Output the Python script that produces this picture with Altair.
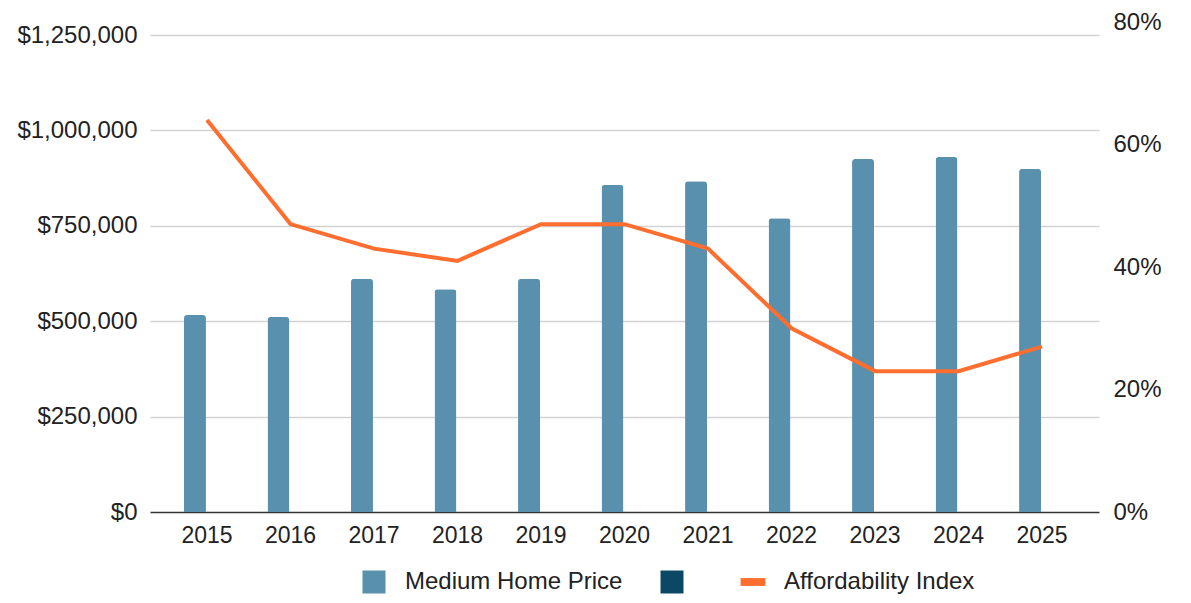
import altair as alt
import pandas as pd

years = ["2015", "2016", "2017", "2018", "2019", "2020", "2021", "2022", "2023", "2024", "2025"]
home_price = [516000, 511000, 611000, 584000, 611000, 857000, 867000, 770000, 925000, 930000, 899000]
affordability = [0.64, 0.47, 0.43, 0.41, 0.47, 0.47, 0.43, 0.30, 0.23, 0.23, 0.27]
series_names = ["Medium Home Price", "Series 2", "Affordability Index"]
series_colors = ["#5890ae", "#0b4866", "#ff6d2f"]
series_shapes = ["square", "square", "M-1.08,-0.34H1.08V0.34H-1.08Z"]
left_ticks = [0, 250000, 500000, 750000, 1000000, 1250000]
right_ticks = [0, 0.2, 0.4, 0.6, 0.8]

FONT = "Liberation Sans"

bars_df = pd.DataFrame({"year": years, "price": home_price, "series": series_names[0]})
line_df = pd.DataFrame({"year": years, "afford": affordability})
legend_df = pd.DataFrame({"series": series_names})

x_enc = alt.X(
    "year:O",
    title=None,
    scale=alt.Scale(paddingInner=0.45, paddingOuter=0.407),
    axis=alt.Axis(labelAngle=0, labelFontSize=23, labelFont=FONT, labelColor="#222",
                  ticks=False, tickSize=0, domain=False, labelPadding=12),
)

bars = alt.Chart(bars_df).mark_bar(
    color=series_colors[0], cornerRadiusTopLeft=3, cornerRadiusTopRight=3
).encode(
    x=x_enc,
    xOffset=alt.XOffset("series:N", scale=alt.Scale(domain=series_names[:2], paddingInner=0.083, paddingOuter=0)),
    y=alt.Y(
        "price:Q",
        title=None,
        scale=alt.Scale(domain=[0, 1284100], nice=False),
        axis=alt.Axis(
            values=left_ticks, format="$,.0f", orient="left",
            labelFontSize=24, labelFont=FONT, labelColor="#222",
            ticks=False, domain=False, labelPadding=13,
            grid=True, gridWidth=1.5,
            gridColor={"condition": {"test": "datum.value === 0", "value": "#333333"}, "value": "#d3d3d3"},
        ),
    ),
)

line = alt.Chart(line_df).mark_line(color=series_colors[2], strokeWidth=4).encode(
    x=alt.X("year:O"),
    y=alt.Y(
        "afford:Q",
        title=None,
        scale=alt.Scale(domain=[0, 0.8], nice=False),
        axis=alt.Axis(
            values=right_ticks, format=".0%", orient="right",
            labelFontSize=24, labelFont=FONT, labelColor="#222",
            ticks=False, domain=False, grid=False, labelPadding=14,
        ),
    ),
)

legend_layer = alt.Chart(legend_df).mark_point(filled=True, opacity=1).encode(
    x=alt.value(0),
    y=alt.value(0),
    color=alt.Color(
        "series:N",
        scale=alt.Scale(domain=series_names, range=series_colors),
        legend=alt.Legend(
            title=None, orient="none", direction="horizontal",
            legendX=212, legendY=548,
            symbolOpacity=1, symbolSize=529, symbolStrokeWidth=0,
            labelFontSize=24, labelFont=FONT, labelColor="#222", labelLimit=0,
            labelOffset=19, columnPadding=37, padding=0,
            labelExpr="datum.label == 'Series 2' ? '' : datum.label",
        ),
    ),
    shape=alt.Shape("series:N", scale=alt.Scale(domain=series_names, range=series_shapes)),
).transform_filter("datum.series == 'none'")

chart = alt.layer(bars, line, legend_layer).resolve_scale(y="independent").properties(
    width=949,
    height=490,
    autosize=alt.AutoSizeParams(type="none"),
    padding={"left": 142, "top": 14, "right": 84, "bottom": 83},
).configure(font=FONT).configure_view(stroke=None)

chart.save("out.html", embed_options={"renderer": "svg", "actions": False})
